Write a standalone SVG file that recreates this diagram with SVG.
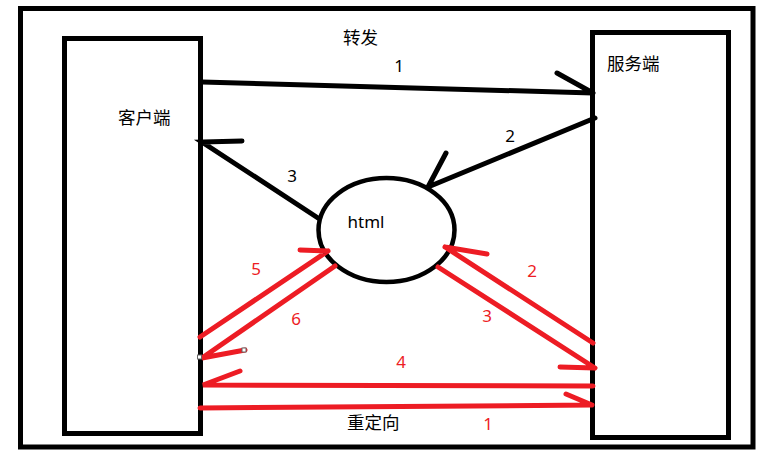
<svg xmlns="http://www.w3.org/2000/svg" width="764" height="465" viewBox="0 0 764 465">
<style>
.frame{fill:none;stroke:#000;stroke-width:5}
.box{fill:#fff;stroke:#000;stroke-width:5}
.blk{fill:none;stroke:#000;stroke-width:5;stroke-linecap:round}
.red{fill:none;stroke:#ED1C24;stroke-width:5;stroke-linecap:round}
.cjk{font-family:"Noto Sans CJK SC","Noto Sans",sans-serif;font-size:17.5px;fill:#000}
.num{font-family:"Noto Sans","Open Sans",sans-serif;font-size:17px;text-anchor:middle}
.nb{fill:#000}
.nr{fill:#ED1C24}
.handle{fill:#fff;stroke:#666;stroke-width:1}
</style>
<rect width="764" height="465" fill="#fff"/>
<rect class="frame" x="20.5" y="8.5" width="732.5" height="438.5"/>
<g id="client">
<rect class="box" x="64.5" y="38.5" width="136" height="395"/>
<text class="cjk" x="118" y="124">客户端</text>
</g>
<g id="server">
<rect class="box" x="592.5" y="32.5" width="136" height="405"/>
<text class="cjk" x="607" y="70">服务端</text>
</g>
<g id="html">
<ellipse cx="386.5" cy="230" rx="68" ry="52" fill="#fff" stroke="#000" stroke-width="4.5"/>
<text x="366" y="228" text-anchor="middle" style="font-family:'Noto Sans',sans-serif;font-size:17px">html</text>
</g>
<g id="connectors">
<path class="blk" d="M202 82 L593 93 M557 73 L593 93"/>
<path class="blk" d="M595 118 L428 187 M446 153 L428 187"/>
<path class="blk" d="M318 218 L202 142 L242 141"/>
<path class="red" d="M200 337 L328 251 M300 250 L328 251"/>
<path class="red" d="M335 266 L202 358 L245 350"/>
<path class="red" d="M593 343 L445 247 M487 254 L445 247"/>
<path class="red" d="M438 267 L595 368 M560 367 L595 368"/>
<path class="red" d="M593 386 L203 385 L240 371"/>
<path class="red" d="M200 408 L592 405 M566 394 L592 405"/>
<rect class="handle" x="197.5" y="355" width="4" height="4"/>
<rect class="handle" x="242" y="348" width="4" height="4"/>
</g>
<g id="labels">
<text class="cjk" x="343" y="44">转发</text>
<text class="cjk" x="347" y="429">重定向</text>
<text class="num nb" x="399" y="72">1</text>
<text class="num nb" x="510" y="142">2</text>
<text class="num nb" x="292" y="182">3</text>
<text class="num nr" x="256" y="275">5</text>
<text class="num nr" x="296" y="325">6</text>
<text class="num nr" x="532" y="277">2</text>
<text class="num nr" x="487" y="322">3</text>
<text class="num nr" x="401" y="368">4</text>
<text class="num nr" x="488" y="430">1</text>
</g>
</svg>
